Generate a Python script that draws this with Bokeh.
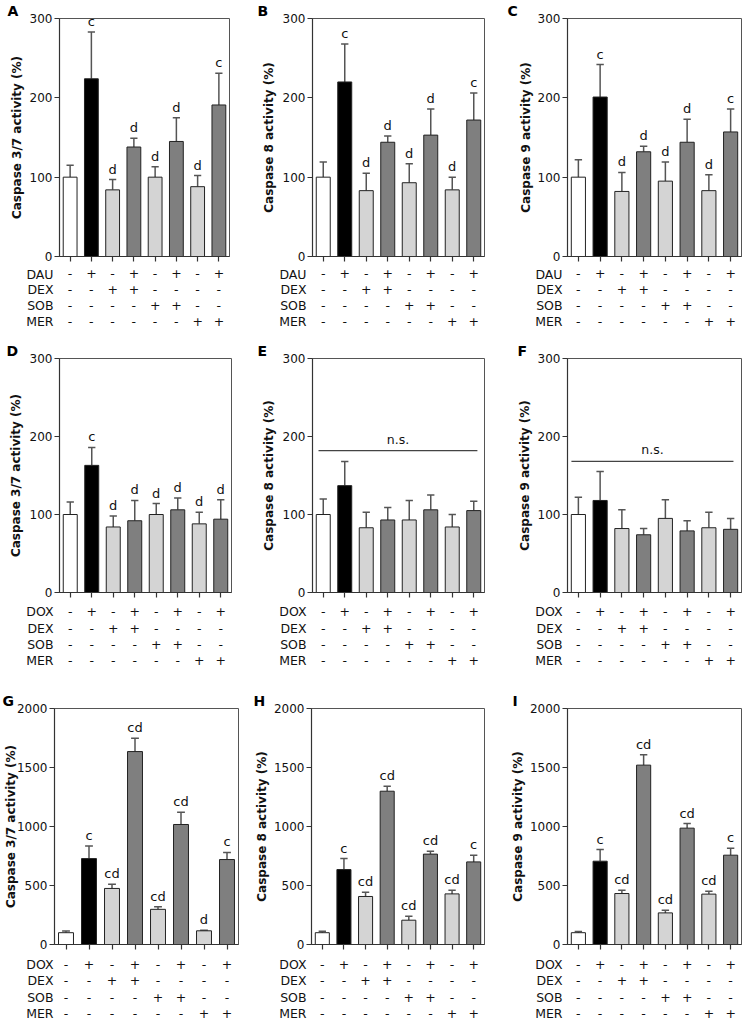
from bokeh.plotting import figure
from bokeh.layouts import column, row
from bokeh.models import Range1d, FixedTicker, ColumnDataSource
from bokeh.core.properties import value
from bokeh.embed import file_html
from bokeh.resources import INLINE

FONT = "DejaVu Sans"

# ---------------- data ----------------
groups = [1, 2, 3, 4, 5, 6, 7, 8]
row_names_top = ["DAU", "DEX", "SOB", "MER"]
row_names_low = ["DOX", "DEX", "SOB", "MER"]
row_drug = ["-", "+", "-", "+", "-", "+", "-", "+"]
row_dex = ["-", "-", "+", "+", "-", "-", "-", "-"]
row_sob = ["-", "-", "-", "-", "+", "+", "-", "-"]
row_mer = ["-", "-", "-", "-", "-", "-", "+", "+"]

a_mean = [100, 224, 84, 138, 100, 145, 88, 191]
a_sd = [15, 59, 13, 11, 13, 30, 14, 40]
a_sig = ["", "c", "d", "d", "d", "d", "d", "c"]

b_mean = [100, 220, 83, 144, 93, 153, 84, 172]
b_sd = [19, 48, 22, 8, 24, 33, 16, 34]
b_sig = ["", "c", "d", "d", "d", "d", "d", "c"]

c_mean = [100, 201, 82, 132, 95, 144, 83, 157]
c_sd = [22, 41, 24, 7, 24, 29, 20, 29]
c_sig = ["", "c", "d", "d", "d", "d", "d", "c"]

d_mean = [100, 163, 84, 92, 100, 106, 88, 94]
d_sd = [16, 23, 14, 26, 14, 15, 15, 25]
d_sig = ["", "c", "d", "d", "d", "d", "d", "d"]

e_mean = [100, 137, 83, 93, 93, 106, 84, 105]
e_sd = [20, 31, 20, 16, 25, 19, 16, 12]
e_sig = ["", "", "", "", "", "", "", ""]
e_ns_y = 182
e_ns_span = [0.78, 8.17]

f_mean = [100, 118, 82, 74, 95, 79, 83, 81]
f_sd = [22, 37, 24, 8, 24, 13, 20, 14]
f_sig = ["", "", "", "", "", "", "", ""]
f_ns_y = 168
f_ns_span = [0.68, 8.13]

g_mean = [100, 728, 475, 1635, 298, 1017, 116, 720]
g_sd = [15, 107, 35, 113, 22, 103, 5, 60]
g_sig = ["", "c", "cd", "cd", "cd", "cd", "d", "c"]

h_mean = [100, 635, 407, 1299, 206, 766, 429, 700]
h_sd = [12, 93, 36, 43, 34, 24, 31, 57]
h_sig = ["", "c", "cd", "cd", "cd", "cd", "cd", "c"]

i_mean = [100, 706, 432, 1520, 268, 986, 427, 757]
i_sd = [10, 99, 28, 87, 23, 39, 25, 59]
i_sig = ["", "c", "cd", "cd", "cd", "cd", "cd", "c"]

ticks_low = [0, 100, 200, 300]
ticks_high = [0, 500, 1000, 1500, 2000]

ylab_37 = "Caspase 3/7 activity (%)"
ylab_8 = "Caspase 8 activity (%)"
ylab_9 = "Caspase 9 activity (%)"

# ---------------- styles ----------------
fills = ["#ffffff", "#000000", "#d4d4d4", "#7f7f7f", "#d4d4d4", "#7f7f7f", "#d4d4d4", "#7f7f7f"]
TXT = "#111111"
AX = "#333333"
XR = (0.5, 8.5)


def make_panel(letter, ylab, mean, sd, sig, ymax, yticks, names, lay,
               ns_y=None, ns_span=None):
    (W, Hp, Ht, fl, fw, top, lab_sd, name_gap, let_dx, rows_y) = lay
    bottom = 10
    fh = Hp - top - bottom
    xr = Range1d(*XR)
    p = figure(width=W, height=Hp, x_range=xr, y_range=Range1d(0, ymax),
               output_backend="svg", toolbar_location=None, title=letter,
               min_border_left=fl, min_border_top=top,
               min_border_right=W - fl - fw, min_border_bottom=bottom)
    p.background_fill_color = "white"
    p.border_fill_color = "white"
    p.outline_line_color = "#555555"
    p.outline_line_width = 1
    p.grid.visible = False

    p.title.align = "left"
    p.title.offset = let_dx
    p.title.standoff = 0
    p.title.text_font = FONT
    p.title.text_font_size = "14px"
    p.title.text_font_style = "bold"
    p.title.text_color = "#000000"

    def fy(py):  # px -> data y
        return py * ymax / fh

    tops = [m + s for m, s in zip(mean, sd)]
    src = ColumnDataSource(dict(x=groups, top=mean, fill=fills, etop=tops, sig=sig,
                                cl=[g - 0.17 for g in groups], cr=[g + 0.17 for g in groups],
                                ly=[t + fy(3) for t in tops]))
    p.segment(x0="x", y0="top", x1="x", y1="etop", source=src, line_color="#555555", line_width=1.5)
    p.segment(x0="cl", y0="etop", x1="cr", y1="etop", source=src, line_color="#555555", line_width=1.5)
    p.vbar(x="x", top="top", bottom=0, width=0.65, source=src, fill_color="fill",
           line_color="#222222", line_width=1)
    p.text(x="x", y="ly", text="sig", source=src, text_align="center",
           text_baseline="bottom", text_font=value(FONT), text_font_size="13px",
           text_color=TXT)

    if ns_y is not None:
        p.segment(x0=[ns_span[0]], y0=[ns_y], x1=[ns_span[1]], y1=[ns_y],
                  line_color="#444444", line_width=1.2)
        p.text(x=[(ns_span[0] + ns_span[1]) / 2], y=[ns_y + fy(4)], text=["n.s."],
               text_align="center", text_baseline="bottom", text_font=value(FONT),
               text_font_size="12.5px", text_color=TXT)

    ya = p.yaxis[0]
    ya.ticker = FixedTicker(ticks=yticks)
    ya.major_label_text_font = FONT
    ya.major_label_text_font_size = "12px"
    ya.major_label_text_color = TXT
    ya.major_label_standoff = 2
    ya.major_tick_out = 5
    ya.major_tick_in = 0
    ya.minor_tick_out = 0
    ya.minor_tick_in = 0
    ya.axis_line_color = AX
    ya.axis_line_width = 1.2
    ya.major_tick_line_color = AX
    ya.major_tick_line_width = 1.2
    ya.axis_label = ylab
    ya.axis_label_text_font = FONT
    ya.axis_label_text_font_style = "bold"
    ya.axis_label_text_font_size = "12px"
    ya.axis_label_text_color = TXT
    ya.axis_label_standoff = lab_sd

    xa = p.xaxis[0]
    xa.ticker = FixedTicker(ticks=groups)
    xa.major_label_overrides = {g: "" for g in groups}
    xa.major_label_text_font_size = "0px"
    xa.major_label_standoff = 0
    xa.major_tick_out = 5
    xa.major_tick_in = 0
    xa.minor_tick_out = 0
    xa.minor_tick_in = 0
    xa.axis_line_color = AX
    xa.axis_line_width = 1.2
    xa.major_tick_line_color = AX
    xa.major_tick_line_width = 1.2

    # treatment table: strip figure sharing the bar scale; row names are its y tick labels
    t = figure(width=W, height=Ht, x_range=xr, y_range=Range1d(Ht, 0),
               output_backend="svg", toolbar_location=None, x_axis_location=None,
               min_border_left=fl, min_border_right=W - fl - fw,
               min_border_top=0, min_border_bottom=0)
    t.outline_line_color = None
    t.grid.visible = False
    t.background_fill_color = "white"
    t.border_fill_color = "white"
    for r, yy in zip([row_drug, row_dex, row_sob, row_mer], rows_y):
        t.text(x=groups, y=[yy] * len(groups), text=r, text_align="center",
               text_baseline="middle", text_font=value(FONT), text_font_size="12.5px",
               text_color=TXT)
    ta = t.yaxis[0]
    ta.ticker = FixedTicker(ticks=rows_y)
    ta.major_label_overrides = {yy: nm for yy, nm in zip(rows_y, names)}
    ta.major_label_text_font = FONT
    ta.major_label_text_font_size = "12.5px"
    ta.major_label_text_color = TXT
    ta.major_label_standoff = name_gap
    ta.major_tick_out = 0
    ta.major_tick_in = 0
    ta.minor_tick_out = 0
    ta.minor_tick_in = 0
    ta.axis_line_color = None
    ta.major_tick_line_color = None
    return column(p, t)


rows1 = [7, 23, 39, 55]
rows2 = [9, 26, 42, 58]
rows3 = [10, 26, 43, 59]
# W, plot h, table h, frame left, frame w, top border, ylabel standoff, name gap, letter dx, table rows
lay_a = (248, 266, 74, 59, 170, 17, 3, 6, -52, rows1)
lay_b = (248, 266, 74, 64, 172, 17, 4, 6, -55, rows1)
lay_c = (249, 266, 74, 71, 174, 17, 2, 5, -60, rows1)
lay_d = (248, 262, 88, 59, 172, 17, 4, 6, -53, rows2)
lay_e = (248, 262, 88, 64, 172, 17, 4, 6, -55, rows2)
lay_f = (249, 262, 88, 71, 174, 17, 3, 5, -50, rows2)
lay_g = (248, 264, 66, 54, 184, 17, -4, 1, -52, rows3)
lay_h = (248, 264, 66, 63, 173, 17, 2, 5, -58, rows3)
lay_i = (249, 264, 66, 71, 174, 17, 2, 5, -55, rows3)

panel_a = make_panel("A", ylab_37, a_mean, a_sd, a_sig, 300, ticks_low, row_names_top, lay_a)
panel_b = make_panel("B", ylab_8, b_mean, b_sd, b_sig, 300, ticks_low, row_names_top, lay_b)
panel_c = make_panel("C", ylab_9, c_mean, c_sd, c_sig, 300, ticks_low, row_names_top, lay_c)
panel_d = make_panel("D", ylab_37, d_mean, d_sd, d_sig, 300, ticks_low, row_names_low, lay_d)
panel_e = make_panel("E", ylab_8, e_mean, e_sd, e_sig, 300, ticks_low, row_names_low, lay_e,
                     ns_y=e_ns_y, ns_span=e_ns_span)
panel_f = make_panel("F", ylab_9, f_mean, f_sd, f_sig, 300, ticks_low, row_names_low, lay_f,
                     ns_y=f_ns_y, ns_span=f_ns_span)
panel_g = make_panel("G", ylab_37, g_mean, g_sd, g_sig, 2000, ticks_high, row_names_low, lay_g)
panel_h = make_panel("H", ylab_8, h_mean, h_sd, h_sig, 2000, ticks_high, row_names_low, lay_h)
panel_i = make_panel("I", ylab_9, i_mean, i_sd, i_sig, 2000, ticks_high, row_names_low, lay_i)

layout = column(row(panel_a, panel_b, panel_c),
                row(panel_d, panel_e, panel_f),
                row(panel_g, panel_h, panel_i))

open("out.html", "w").write(file_html(layout, INLINE))
